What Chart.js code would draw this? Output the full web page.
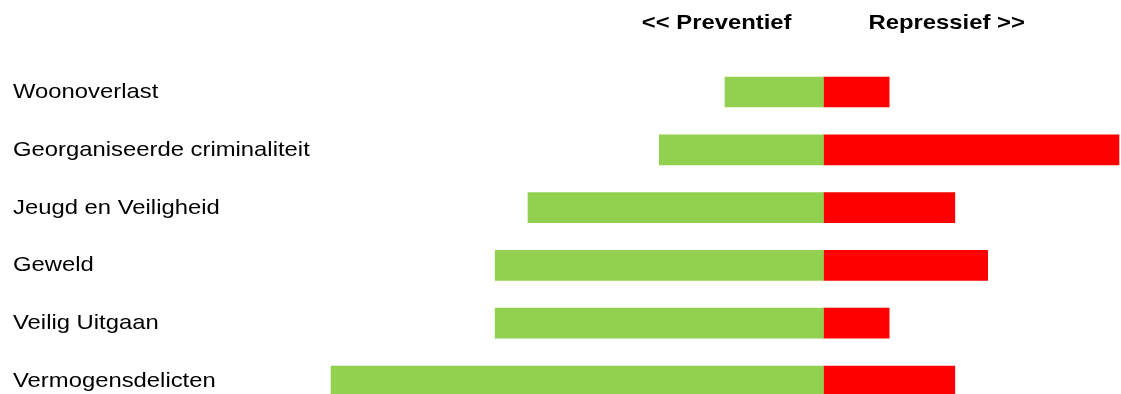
<!DOCTYPE html>
<html lang="nl">
<head>
<meta charset="UTF-8" />
<title>Preventief / Repressief</title>
<style>
  body { margin: 0; background: #fff; }
  canvas { display: block; }
</style>
</head>
<body>
<canvas id="chart" width="1121" height="394"></canvas>
<script src="https://cdn.jsdelivr.net/npm/chart.js"></script>
<script>
const categories = [
  "Woonoverlast",
  "Georganiseerde criminaliteit",
  "Jeugd en Veiligheid",
  "Geweld",
  "Veilig Uitgaan",
  "Vermogensdelicten"
];
// preventief goes to the left, so negative
const preventief = [-3, -5, -9, -10, -10, -15];
const repressief = [2, 9, 4, 5, 2, 4];
const headerLeft = "<< Preventief";
const headerRight = "Repressief >>";

const FONT = "'Liberation Sans', Arial, sans-serif";
const STRETCH = 1.135; // source text is a bit stretched horizontally

function stretchedText(ctx, text, x, y, align) {
  ctx.save();
  const w = ctx.measureText(text).width * STRETCH;
  let left = x;
  if (align === "center") left = x - w / 2;
  if (align === "right") left = x - w;
  ctx.translate(left, y);
  ctx.scale(STRETCH, 1);
  ctx.textAlign = "left";
  ctx.fillText(text, 0, 0);
  ctx.restore();
}

const labelPlugin = {
  id: "labels",
  afterDraw(chart) {
    const ctx = chart.ctx;
    const y = chart.scales.y;
    const x = chart.scales.x;
    ctx.save();
    ctx.fillStyle = "#000";
    ctx.textBaseline = "alphabetic";
    ctx.font = "21px " + FONT;
    categories.forEach((c, i) => {
      stretchedText(ctx, c, 13, y.getPixelForValue(i) + 6, "left");
    });
    ctx.font = "bold 21px " + FONT;
    const zero = x.getPixelForValue(0);
    stretchedText(ctx, headerLeft, zero - 32, 29, "right");
    stretchedText(ctx, headerRight, zero + 45, 29, "left");
    ctx.restore();
  }
};

new Chart(document.getElementById("chart"), {
  type: "bar",
  data: {
    labels: categories,
    datasets: [
      {
        label: "Preventief",
        data: preventief,
        backgroundColor: "#92D050",
        barThickness: 30,
        clip: false
      },
      {
        label: "Repressief",
        data: repressief,
        backgroundColor: "#FF0000",
        barThickness: 30,
        clip: false
      }
    ]
  },
  options: {
    indexAxis: "y",
    responsive: false,
    animation: false,
    layout: { padding: { left: 331, right: 2, top: 92, bottom: 13 } },
    scales: {
      x: { stacked: true, min: -15, max: 9, display: false },
      y: { stacked: true, offset: false, display: false }
    },
    plugins: {
      legend: { display: false },
      tooltip: { enabled: false }
    }
  },
  plugins: [labelPlugin]
});
</script>
</body>
</html>
